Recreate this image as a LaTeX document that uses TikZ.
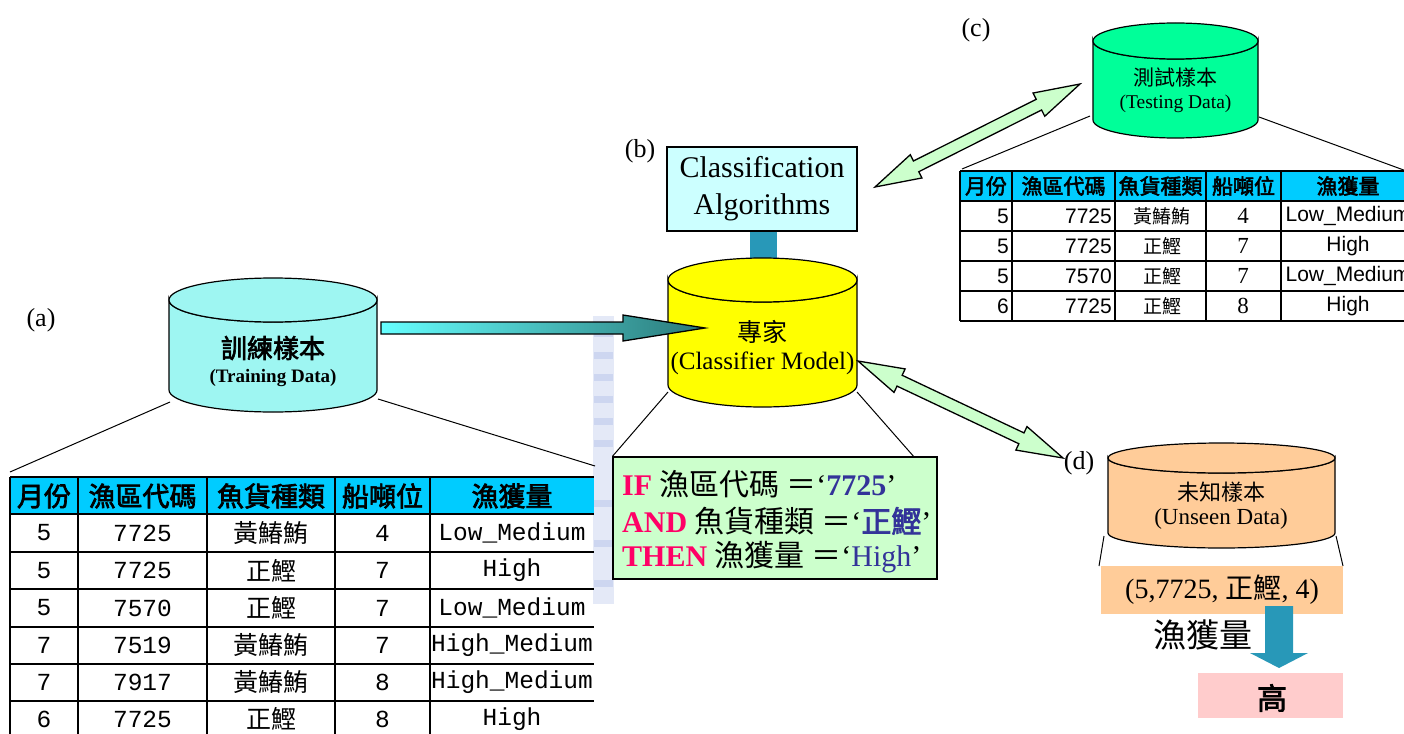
\documentclass[tikz,border=0pt]{standalone}
\usepackage{fontspec}
\setmainfont{Liberation Serif}
\setsansfont{Liberation Sans}
\setmonofont{Liberation Mono}
\newfontfamily\cjk{Noto Sans CJK TC}
\newfontfamily\cjkb{Noto Sans CJK TC}[FakeBold=2.5]
\usetikzlibrary{calc}

\definecolor{hdrblue}{HTML}{00CCFF}
\definecolor{cylcyan}{HTML}{9EF6F2}
\definecolor{cylyellow}{HTML}{FFFF00}
\definecolor{cylgreen}{HTML}{00FF99}
\definecolor{cylorange}{HTML}{FFCC99}
\definecolor{algbox}{HTML}{CCFFFF}
\definecolor{linkteal}{HTML}{2898B8}
\definecolor{ifred}{HTML}{FF0066}
\definecolor{ruleblue}{HTML}{333399}
\definecolor{rulegreen}{HTML}{CCFFCC}
\definecolor{pinkbox}{HTML}{FFCCCC}
\definecolor{flowL}{HTML}{66FFFF}
\definecolor{flowR}{HTML}{2A7878}
\definecolor{markblue}{HTML}{E4E9F7}
\definecolor{markstripe}{HTML}{CDD6F0}

\newcommand\sz[2]{\fontsize{#1}{#2}\selectfont}

% drum-shaped data store: name, centre x, top y, bottom y, x radius, y radius, fill
\newcommand\drum[7]{%
  \path[fill=#7, draw=black, line width=1.2]
    (#2-#5,#3) -- (#2-#5,#4)
    arc[start angle=180, end angle=0, x radius=#5, y radius=#6]
    -- (#2+#5,#3)
    arc[start angle=0, end angle=180, x radius=#5, y radius=#6] -- cycle;
  \path[fill=#7, draw=black, line width=1.2] (#2,#3) ellipse[x radius=#5, y radius=#6];
  \node[inner sep=0, minimum width=2*#5, minimum height=#4-#3+2*#6] (#1) at (#2,{(#3+#4)/2}) {};
}

% two-headed block arrow between two named points
\newcommand\dblarrow[2]{%
  \path[draw=black, fill=rulegreen, line width=1.3, line join=miter]
    (#1) -- ($(#1)!46pt!(#2)!13pt!90:(#2)$) -- ($(#1)!46pt!(#2)!6pt!90:(#2)$)
    -- ($(#2)!46pt!(#1)!6pt!-90:(#1)$) -- ($(#2)!46pt!(#1)!13pt!-90:(#1)$)
    -- (#2)
    -- ($(#2)!46pt!(#1)!13pt!90:(#1)$) -- ($(#2)!46pt!(#1)!6pt!90:(#1)$)
    -- ($(#1)!46pt!(#2)!6pt!-90:(#2)$) -- ($(#1)!46pt!(#2)!13pt!-90:(#2)$) -- cycle;
}

\begin{document}
\begin{tikzpicture}[x=1pt, y=-1pt,
  grid/.style={draw=black, line width=1.5},
  thin link/.style={draw=black, line width=1},
  lbl/.style={inner sep=0, font=\rmfamily\sz{26}{28}},
  hdrA/.style={inner sep=0, font=\cjkb\sz{27}{30}},
  monoA/.style={inner sep=0, font=\ttfamily\sz{24.5}{27}},
  cjkA/.style={inner sep=0, font=\cjk\sz{25}{28}},
  hdrC/.style={inner sep=0, font=\cjkb\sz{21}{23}},
  arialC/.style={inner sep=0, font=\sffamily\sz{21}{23}},
  cjkC/.style={inner sep=0, font=\cjk\sz{19}{21}},
  timesC/.style={inner sep=0, font=\rmfamily\sz{23}{25}},
  ruleline/.style={inner sep=0, anchor=west, font=\rmfamily\sz{30}{34}},
]
\useasboundingbox (0,0) rectangle (1404,733);
\clip (0,0) rectangle (1404,733);
\fill[white] (0,0) rectangle (1404,733);

% faint backdrop strip
\fill[markblue] (593,316) rectangle (614,604);
\foreach \y in {330,352,374,396,418,440,500,540,580}
  \fill[markstripe] (594,\y) rectangle (613,\y+7);

% ---------- table (a): training samples ----------
\fill[hdrblue] (10,477) rectangle (594,514);
\foreach \y in {477,514,552,589,627,664,701}
  \draw[grid] (10,\y) -- (594,\y);
\foreach \x in {10,78,207,335,430}
  \draw[grid] (\x,477) -- (\x,740);
\foreach \t/\x [count=\i] in {月份/44, 漁區代碼/142.5, 魚貨種類/271, 船噸位/382.5, 漁獲量/512}
  \node[hdrA] (ta-h\i) at (\x,496) {\t};
\foreach \y/\a/\b/\c/\d/\e [count=\i] in {
    533/5/7725/黃鰆鮪/4/Low\_Medium,
    570.5/5/7725/正鰹/7/High,
    608/5/7570/正鰹/7/Low\_Medium,
    645.5/7/7519/黃鰆鮪/7/High\_Medium,
    682.5/7/7917/黃鰆鮪/8/High\_Medium,
    719/6/7725/正鰹/8/High}{
  \node[monoA] (ta-\i-1) at (44,\y) {\a};
  \node[monoA] (ta-\i-2) at (142.5,\y) {\b};
  \node[cjkA]  (ta-\i-3) at (271,\y) {\c};
  \node[monoA] (ta-\i-4) at (382.5,\y) {\d};
  \node[monoA] (ta-\i-5) at (512,\y) {\e};
}

% ---------- table (c): testing samples ----------
\fill[hdrblue] (960,171) rectangle (1420,201);
\foreach \y in {171,201,231,261,291,321}
  \draw[grid] (960,\y) -- (1420,\y);
\foreach \x in {960,1012,1115,1206,1281}
  \draw[grid] (\x,171) -- (\x,321);
\foreach \t/\x [count=\i] in {月份/986, 漁區代碼/1063.5, 魚貨種類/1160.5, 船噸位/1243.5, 漁獲量/1348}
  \node[hdrC] (tc-h\i) at (\x,186) {\t};
\foreach \y/\a/\b/\c/\d/\e [count=\i] in {
    216/5/7725/黃鰆鮪/4/Low\_Medium,
    246/5/7725/正鰹/7/High,
    276/5/7570/正鰹/7/Low\_Medium,
    306/6/7725/正鰹/8/High}{
  \node[arialC, anchor=east] (tc-\i-1) at (1009,\y) {\a};
  \node[arialC, anchor=east] (tc-\i-2) at (1112,\y) {\b};
  \node[cjkC]   (tc-\i-3) at (1162,\y) {\c};
  \node[timesC] (tc-\i-4) at (1243,\y) {\d};
  \node[arialC] (tc-\i-5) at (1348,\y) {\e};
}

% ---------- rule box ----------
\node[draw=black, line width=1.2, fill=rulegreen, minimum width=324, minimum height=122, inner sep=0] (rule) at (775,518) {};
\node[ruleline] (rule-if) at (622,484)
  {{\bfseries\color{ifred}IF} {\cjk 漁區代碼 ＝}‘{\bfseries\color{ruleblue}7725}’};
\node[ruleline] (rule-and) at (622,521)
  {{\bfseries\color{ifred}AND} {\cjk 魚貨種類 ＝}‘{\cjkb\color{ruleblue}正鰹}’};
\node[ruleline] (rule-then) at (622,557)
  {{\bfseries\color{ifred}THEN} {\cjk 漁獲量 ＝}‘{\color{ruleblue}High}’};

% ---------- fan-out lines from the drums ----------
\coordinate (a-l) at (170,402);   \coordinate (ta-tl) at (10,472);
\coordinate (a-r) at (378,399);   \coordinate (ta-tr) at (595,466);
\coordinate (b-l) at (668,392);   \coordinate (b-r) at (857,392);
\coordinate (c-l) at (1090,116);  \coordinate (tc-tl) at (962,169);
\coordinate (c-r) at (1259,117);  \coordinate (tc-tr) at (1420,176);
\coordinate (d-l) at (1104,536);  \coordinate (d-r) at (1336,536);
\coordinate (band-l) at (1099,566); \coordinate (band-r) at (1343,566);
\draw[thin link] (a-l) -- (ta-tl);
\draw[thin link] (a-r) -- (ta-tr);
\draw[thin link] (b-l) -- (rule.north west);
\draw[thin link] (b-r) -- ($(rule.north east)+(-24,0)$);
\draw[thin link] (c-l) -- (tc-tl);
\draw[thin link] (c-r) -- (tc-tr);
\draw[thin link] (d-l) -- (band-l);
\draw[thin link] (d-r) -- (band-r);

% ---------- algorithms box and its link ----------
\node[draw=black, line width=1.2, fill=algbox, minimum width=190, minimum height=84, inner sep=0,
      align=center, font=\rmfamily\sz{30}{37}] (alg) at (762,189) {Classification\\Algorithms};
\draw[linkteal, line width=27] (763.5,231.5) -- (763.5,262);

% ---------- drums ----------
\drum{cylA}{273}{300}{390}{104}{22}{cylcyan}
\drum{cylB}{762.5}{280}{385}{94.5}{22}{cylyellow}
\drum{cylC}{1175.5}{41}{120}{82.5}{18}{cylgreen}
\drum{cylD}{1221.5}{458}{533}{113.5}{15}{cylorange}

\node[inner sep=0, font=\cjkb\sz{26}{28}] (cylA-zh) at (273,348) {訓練樣本};
\node[inner sep=0, font=\rmfamily\bfseries\sz{19}{21}] (cylA-en) at (273,378) {(Training Data)};
\node[inner sep=0, font=\cjk\sz{25}{28}] (cylB-zh) at (762.5,332) {專家};
\node[inner sep=0, font=\rmfamily\sz{25}{28}] (cylB-en) at (762.5,363) {(Classifier Model)};
\node[inner sep=0, font=\cjk\sz{21}{23}] (cylC-zh) at (1175.5,78) {測試樣本};
\node[inner sep=0, font=\rmfamily\sz{19.5}{22}] (cylC-en) at (1175.5,104) {(Testing Data)};
\node[inner sep=0, font=\cjk\sz{22}{24}] (cylD-zh) at (1221,492) {未知樣本};
\node[inner sep=0, font=\rmfamily\sz{23}{25}] (cylD-en) at (1221,519) {(Unseen Data)};

% ---------- panel labels ----------
\node[lbl] (lab-a) at (41,320) {(a)};
\node[lbl] (lab-b) at (640,151) {(b)};
\node[lbl] (lab-c) at (976,30) {(c)};
\node[lbl] (lab-d) at (1079,463) {(d)};

% ---------- training flow arrow ----------
\coordinate (abS) at (381,328);
\coordinate (abT) at (705,328);
\draw[line width=1.3, line join=miter, left color=flowL, right color=flowR]
  ($(abS)+(0,-6)$) -- ($(abT)+(-82,-6)$) -- ($(abT)+(-82,-13)$) -- (abT)
  -- ($(abT)+(-82,13)$) -- ($(abT)+(-82,6)$) -- ($(abS)+(0,6)$) -- cycle;

% ---------- two-way arrows ----------
\coordinate (bc-1) at (875,187);
\coordinate (bc-2) at (1080,84);
\coordinate (bd-1) at (858,361);
\coordinate (bd-2) at (1063,458);
\dblarrow{bc-1}{bc-2}
\dblarrow{bd-1}{bd-2}

% ---------- prediction for an unseen sample ----------
\node[fill=cylorange, minimum width=242, minimum height=48, inner sep=0,
      font=\rmfamily\sz{28}{30}] (band) at (1222,590) {(5,7725, {\cjk 正鰹}, 4)};
\node[fill=pinkbox, minimum width=145, minimum height=45, inner sep=0] (res) at (1270.5,695.5) {};
\node[inner sep=0, font=\cjkb\sz{30}{32}] (res-t) at (1272,698) {高};
\coordinate (dS) at (1279,606);
\coordinate (dT) at (1279,668);
\fill[linkteal]
  ($(dS)+(-14,0)$) -- ($(dT)+(-14,-15)$) -- ($(dT)+(-29,-15)$) -- (dT)
  -- ($(dT)+(29,-15)$) -- ($(dT)+(14,-15)$) -- ($(dS)+(14,0)$) -- cycle;
\node[inner sep=0, font=\cjk\sz{33}{35}] (yield) at (1203,635) {漁獲量};
\end{tikzpicture}
\end{document}
